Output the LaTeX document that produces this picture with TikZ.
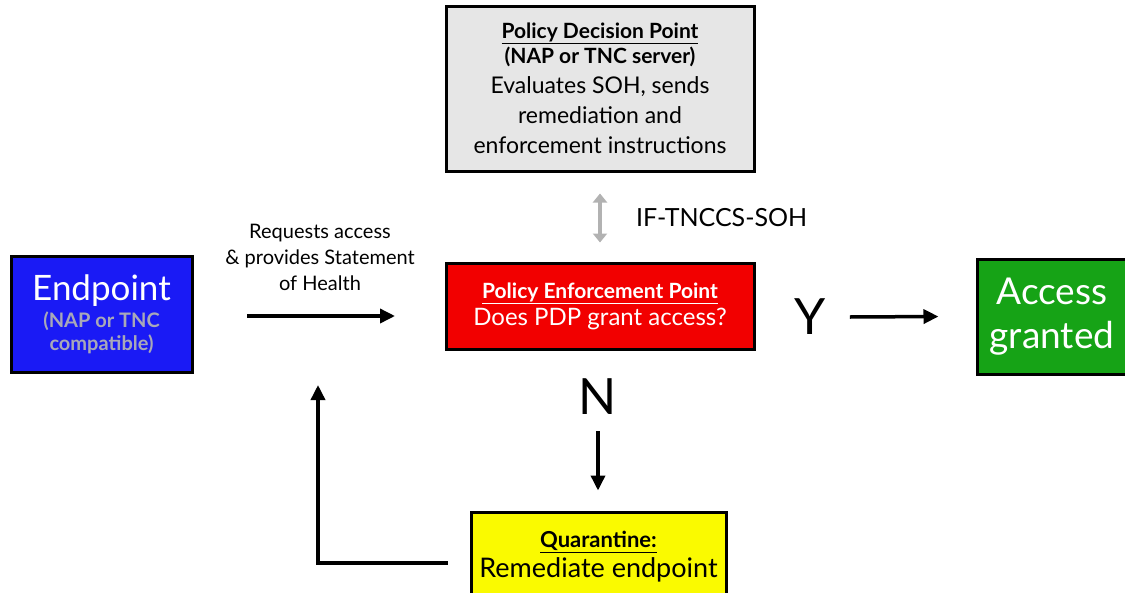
\documentclass[tikz,border=0pt]{standalone}
\usepackage{fontspec}
\setmainfont{Lato}
\usepackage{tikz}
\usetikzlibrary{arrows.meta,positioning}

\definecolor{pdpgray}{HTML}{E6E6E6}
\definecolor{epblue}{HTML}{1A1AF5}
\definecolor{pepred}{HTML}{F20000}
\definecolor{okgreen}{HTML}{16A316}
\definecolor{qyellow}{HTML}{FAFA00}
\definecolor{subgray}{HTML}{A8A8B8}

\begin{document}
\begin{tikzpicture}[
		x=1pt, y=-1pt,
		basic/.style = {draw=black, line width=3pt, rectangle, align=center, inner sep=0pt},
		pdp/.style   = {basic, fill=pdpgray, minimum width=308pt, minimum height=165pt, font=\fontsize{23}{30}\selectfont},
		ep/.style    = {basic, fill=epblue, text=white, minimum width=181pt, minimum height=116pt, font=\fontsize{20}{23}\selectfont},
		pep/.style   = {basic, fill=pepred, text=white, minimum width=308pt, minimum height=86pt, font=\fontsize{24}{27}\selectfont},
		ok/.style    = {basic, fill=okgreen, text=white, minimum width=150pt, minimum height=115pt, font=\fontsize{37}{44}\selectfont},
		quar/.style  = {basic, fill=qyellow, minimum width=255pt, minimum height=90pt, font=\fontsize{27}{30}\selectfont},
		lbl/.style   = {align=center, inner sep=0pt},
		flow/.style  = {-{Triangle[length=15pt,width=14pt]}, line width=3.5pt},
		>=latex]
		
		\useasboundingbox (0,0) rectangle (1125,592);
		
		% Boxes
		\node[pdp] (pdp) at (600,88.5) {%
			\fontsize{21}{22}\selectfont\bfseries\underline{Policy Decision Point}\\[-5pt]
			\fontsize{21}{22}\selectfont\bfseries (NAP or TNC server)\\
			Evaluates SOH, sends\\
			remediation and\\
			enforcement instructions};
		
		\node[ep] (ep) at (101.5,314) {%
			\fontsize{35}{38}\selectfont Endpoint\\[4pt]
			\bfseries\color{subgray}(NAP or TNC\\
			\bfseries\color{subgray}compatible)};
		
		\node[pep] (pep) at (600,306) {%
			\fontsize{21}{22}\selectfont\bfseries\underline{Policy Enforcement Point}\\
			Does PDP grant access?};
		
		\node[ok] (ok) at (1052,316.5) {Access\\ granted};
		
		\node[quar] (quar) at (598.5,557) {%
			\fontsize{22}{22}\selectfont\bfseries\underline{Quarantine:}\\
			Remediate endpoint};
		
		% Labels
		\node[lbl, font=\fontsize{20}{26}\selectfont] (req) at (320,257) {Requests access\\ \& provides Statement\\ of Health};
		\node[lbl, anchor=west, font=\fontsize{25}{28}\selectfont] (ifsoh) at (636,218) {IF-TNCCS-SOH};
		\node[lbl, font=\fontsize{50}{54}\selectfont] (yes) at (810,317) {Y};
		\node[lbl, font=\fontsize{50}{54}\selectfont] (no) at (598,397) {N};
		
		% Connector ends
		\coordinate (reqS) at (247,316);
		\coordinate (reqE) at (395,316);
		\coordinate (backE) at (318,385);
		
		% Arrows
		\draw[flow] (reqS) -- (reqE);
		\draw[{Triangle[length=9pt,width=14pt]}-{Triangle[length=9pt,width=14pt]}, line width=4pt, gray!60]
			([yshift=-21pt]pdp.south) -- ([yshift=-70pt]pdp.south);
		\draw[flow] ([xshift=24pt]yes.east) -- ([xshift=-37pt]ok.west);
		\draw[flow] ([yshift=-16pt]no.south) -- ([yshift=20pt]no.south |- quar.north);
		\draw[flow] ([xshift=-22pt,yshift=-6pt]quar.west) -| (backE);
		
	\end{tikzpicture}
\end{document}
